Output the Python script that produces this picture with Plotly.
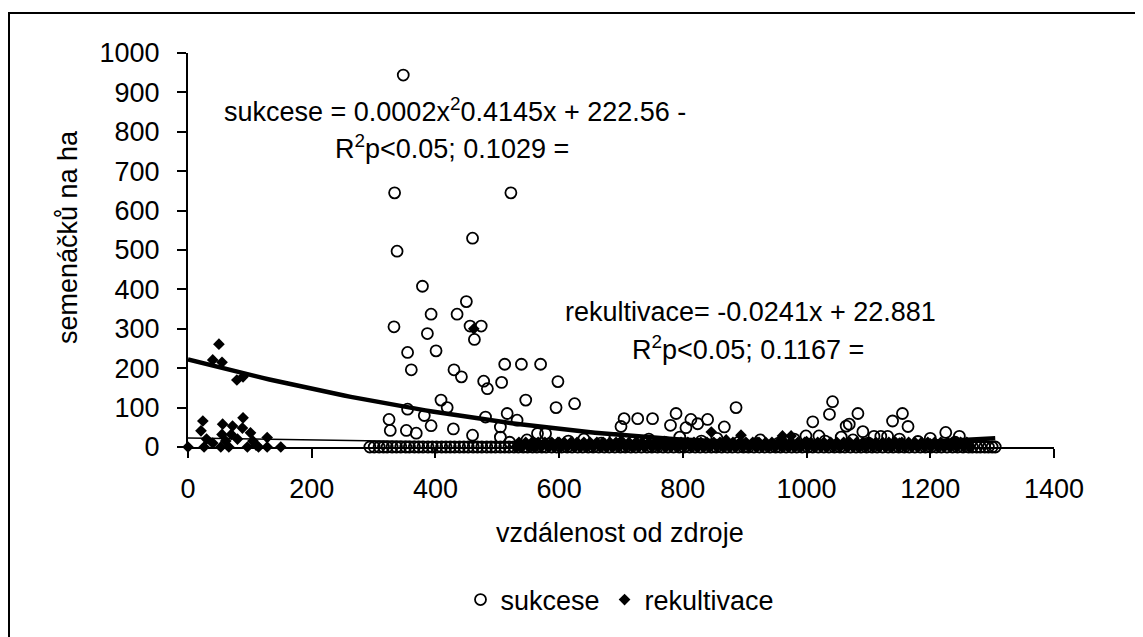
import plotly.graph_objects as go

# ---------------- data ----------------
# sukcese: scattered points (distance, seedlings per ha)
suk_x_scatter = [348, 334, 522, 460, 338, 379, 450, 393, 435, 333, 456, 474, 387, 463, 355, 401,
                 512, 361, 430, 442, 478, 484, 507, 409, 419, 355, 382, 325, 327, 393, 429, 353,
                 369, 460, 481, 505, 516, 539, 570, 598, 546, 595, 625, 532, 505, 565, 578, 705,
                 727, 751, 789, 813, 840, 886, 867, 700, 780, 824, 805, 999, 1020, 1056, 1064,
                 1010, 1037, 1042, 1083, 1069, 1155, 1139, 1164, 1091, 1225, 1247, 1109, 1120, 1131]
suk_y_scatter = [944, 645, 645, 530, 497, 408, 369, 337, 337, 305, 307, 307, 288, 273, 240, 244,
                 210, 196, 196, 178, 167, 148, 164, 119, 100, 96, 80, 70, 42, 54, 46, 42,
                 35, 30, 76, 51, 85, 210, 210, 166, 119, 100, 110, 68, 25, 34, 34, 72,
                 72, 72, 85, 70, 70, 100, 51, 52, 55, 59, 49, 28, 28, 25, 53,
                 64, 83, 115, 85, 58, 85, 66, 52, 39, 37, 27, 27, 27, 27]
# sukcese: low values along the bottom
suk_x_low = [520, 548, 585, 615, 640, 668, 690, 720, 745, 770, 795, 830, 855, 890, 925, 955,
             980, 1030, 1075, 1100, 1150, 1180, 1200, 1240]
suk_y_low = [12, 18, 8, 15, 20, 10, 22, 14, 20, 12, 25, 15, 22, 12, 18, 10,
             20, 15, 18, 10, 20, 14, 22, 12]
# sukcese: zero counts
suk_x_zero = [294, 301, 309, 316, 322, 330, 337, 344, 352, 358, 366, 373, 380, 388, 395, 402,
              410, 417, 424, 431, 439, 446, 453, 461, 468, 475, 483, 490, 497, 505, 512, 519,
              527, 534, 542, 549, 557, 564, 572, 579, 588, 596, 604, 613, 621, 630, 638, 647,
              655, 664, 673, 681, 690, 699, 707, 716, 724, 733, 742, 750, 759, 768, 776, 785,
              794, 802, 811, 820, 828, 837, 846, 854, 863, 872, 880, 889, 898, 906, 915, 924,
              932, 941, 950, 958, 967, 976, 984, 993, 1002, 1010, 1019, 1028, 1036, 1045, 1054,
              1062, 1071, 1080, 1088, 1097, 1106, 1114, 1123, 1132, 1140, 1149, 1158, 1166, 1175,
              1184, 1192, 1201, 1210, 1218, 1227, 1236, 1244, 1253, 1262, 1268, 1275, 1281, 1288,
              1294, 1300, 1305]

# rekultivace: points near the source
rek_x_near = [50, 40, 55, 79, 89, 24, 21, 56, 72, 89, 55, 70, 101, 128, 88, 61, 80, 105,
              0, 26, 53, 66, 96, 114, 128, 150, 40, 110, 30, 462]
rek_y_near = [261, 221, 215, 170, 178, 66, 41, 58, 53, 74, 32, 32, 36, 24, 48, 15, 20, 15,
              0, 0, 0, 0, 0, 0, 0, 0, 10, 5, 20, 300]
# rekultivace: far points with small counts
rek_x_far = [846, 894, 961, 975, 560, 600, 650, 700, 760, 800, 870, 920, 1000, 1050, 1100,
             1150, 1200, 1240]
rek_y_far = [38, 30, 28, 28, 10, 12, 8, 15, 12, 8, 18, 12, 14, 8, 12, 10, 8, 12]
# rekultivace: low counts (~12 per ha)
rek_x_twelve = [535, 546, 556, 566, 577, 588, 598, 608, 619, 629, 640, 650, 661, 671, 682, 692,
                703, 713, 724, 734, 745, 755, 766, 776, 787, 797, 808, 818, 829, 839, 850, 860,
                871, 881, 892, 902, 913, 923, 934, 944, 955, 965, 976, 986, 997, 1007, 1018,
                1028, 1039, 1049, 1060, 1070, 1081, 1091, 1102, 1112, 1123, 1133, 1144, 1154,
                1165, 1175, 1186, 1196, 1207, 1217, 1228, 1238, 1249, 1259]
# rekultivace: zero counts
rek_x_zero = [530, 540, 551, 560, 571, 582, 592, 603, 613, 624, 634, 645, 655, 666, 676, 687,
              697, 708, 718, 729, 739, 750, 760, 771, 781, 792, 802, 813, 823, 834, 844, 855,
              865, 876, 886, 897, 907, 918, 928, 939, 949, 960, 970, 981, 991, 1002, 1012,
              1023, 1033, 1044, 1054, 1065, 1075, 1086, 1096, 1107, 1117, 1128, 1138, 1149,
              1159, 1170, 1180, 1191, 1201, 1212, 1222, 1233, 1243, 1254, 1264]

# trend line coefficients (from the chart's equations)
suk_coef = (0.0002, -0.4145, 222.56)
suk_trend_range = (0, 1305)
rek_coef = (-0.0241, 22.881)
rek_trend_range = (0, 950)

x_ticks = [0, 200, 400, 600, 800, 1000, 1200, 1400]
y_ticks = [0, 100, 200, 300, 400, 500, 600, 700, 800, 900, 1000]

# ---------------- figure ----------------
FONT = "Liberation Sans, Arial, sans-serif"
FS = 27

suk_x = suk_x_scatter + suk_x_low + suk_x_zero
suk_y = suk_y_scatter + suk_y_low + [0] * len(suk_x_zero)
rek_x = rek_x_near + rek_x_far + rek_x_twelve + rek_x_zero
rek_y = rek_y_near + rek_y_far + [12] * len(rek_x_twelve) + [0] * len(rek_x_zero)

n = 120
sx = [suk_trend_range[0] + (suk_trend_range[1] - suk_trend_range[0]) * i / (n - 1) for i in range(n)]
sy = [suk_coef[0] * v * v + suk_coef[1] * v + suk_coef[2] for v in sx]
rx = list(rek_trend_range)
ry = [rek_coef[0] * v + rek_coef[1] for v in rx]

fig = go.Figure()
fig.add_trace(go.Scatter(x=suk_x, y=suk_y, mode="markers", name="sukcese",
                         marker=dict(symbol="circle-open", size=11, color="black",
                                     line=dict(width=1.8, color="black")),
                         cliponaxis=False))
fig.add_trace(go.Scatter(x=rek_x, y=rek_y, mode="markers", name="rekultivace",
                         marker=dict(symbol="diamond", size=9, color="black"),
                         cliponaxis=False))
fig.add_trace(go.Scatter(x=sx, y=sy, mode="lines", showlegend=False,
                         line=dict(color="black", width=4.5), hoverinfo="skip"))
fig.add_trace(go.Scatter(x=rx, y=ry, mode="lines", showlegend=False,
                         line=dict(color="black", width=1.5), hoverinfo="skip"))

# page offset of the figure inside the html body
OFF = 8
L, R, T, B = 180, 97, 45, 198
W, H = 1143, 637
pw, ph = W - L - R, H - T - B


def px2paper_x(p):
    return (p - OFF - L) / pw


def px2paper_y(p):
    return (H - B - (p - OFF)) / ph


axis_common = dict(showline=True, linecolor="black", linewidth=2, ticks="outside",
                   ticklen=9, tickwidth=1.5, tickcolor="black", showgrid=False,
                   zeroline=False, tickfont=dict(family=FONT, size=FS, color="black"))

fig.update_layout(
    width=W, height=H,
    margin=dict(l=L, r=R, t=T, b=B),
    paper_bgcolor="white", plot_bgcolor="white",
    font=dict(family=FONT, size=FS, color="black"),
    xaxis=dict(range=[0, 1400], tickvals=x_ticks, ticklabelstandoff=8, **axis_common),
    yaxis=dict(range=[0, 1000], tickvals=y_ticks, ticklabelstandoff=12, **axis_common),
    legend=dict(orientation="h", x=px2paper_x(620), y=px2paper_y(600),
                xanchor="center", yanchor="middle",
                font=dict(family=FONT, size=FS, color="black"),
                bgcolor="rgba(0,0,0,0)", itemwidth=30),
    showlegend=True,
)

ann = dict(showarrow=False, font=dict(family=FONT, size=FS, color="black"))
fig.add_annotation(x=px2paper_x(455), y=px2paper_y(110), xref="paper", yref="paper",
                   text="sukcese = 0.0002x<sup>2</sup>0.4145x + 222.56 -", xanchor="center", yanchor="middle", **ann)
fig.add_annotation(x=px2paper_x(452), y=px2paper_y(147), xref="paper", yref="paper",
                   text="R<sup>2</sup>p<0.05; 0.1029 =", xanchor="center", yanchor="middle", **ann)
fig.add_annotation(x=px2paper_x(750), y=px2paper_y(312), xref="paper", yref="paper",
                   text="rekultivace= -0.0241x + 22.881", xanchor="center", yanchor="middle", **ann)
fig.add_annotation(x=px2paper_x(748), y=px2paper_y(348), xref="paper", yref="paper",
                   text="R<sup>2</sup>p<0.05; 0.1167 =", xanchor="center", yanchor="middle", **ann)
# axis titles
fig.add_annotation(x=px2paper_x(620), y=px2paper_y(533), xref="paper", yref="paper",
                   text="vzdálenost od zdroje", xanchor="center", yanchor="middle", **ann)
fig.add_annotation(x=px2paper_x(68), y=px2paper_y(237), xref="paper", yref="paper",
                   text="semenáčků na ha", textangle=-90, xanchor="center", yanchor="middle", **ann)

# outer chart border (right and bottom edges lie outside the visible area)
fig.add_shape(type="rect", xref="paper", yref="paper",
              x0=px2paper_x(9), x1=px2paper_x(1170), y0=px2paper_y(660), y1=px2paper_y(13),
              line=dict(color="black", width=2), layer="below")

fig.write_html("out.html")
